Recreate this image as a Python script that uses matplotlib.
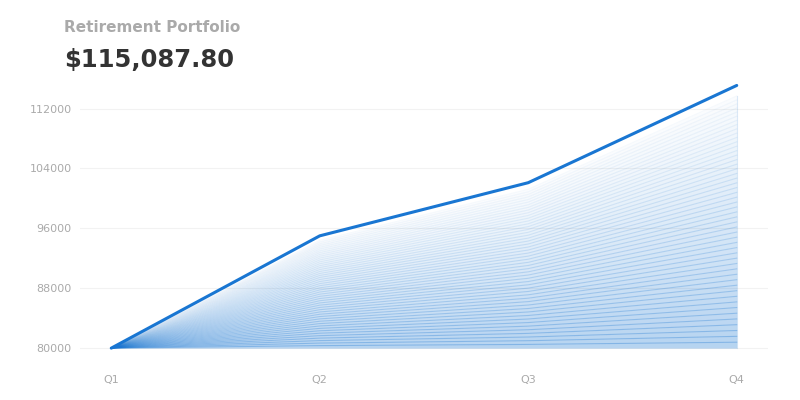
import numpy as np
import matplotlib.pyplot as plt

quarters = ["Q1", "Q2", "Q3", "Q4"]
values = [80000, 95000, 102100, 115087.80]
yticks = [80000, 88000, 96000, 104000, 112000]

line_color = "#1976d2"
base = 80000

fig = plt.figure(figsize=(8, 4), dpi=100)
ax = fig.add_axes([0.1, 0.11, 0.86, 0.70])

x = np.arange(len(quarters))
y = np.array(values)

# gradient fill: thin bands between scaled copies of the line,
# fading from the baseline upwards (a bit wider spacing near the bottom)
t = np.linspace(0.0, 1.0, 52)
levels = 0.96 * (1.2 * t - 0.2 * t ** 2)
for k0, k1 in zip(levels[:-1], levels[1:]):
    lo = base + k0 * (y - base)
    hi = base + k1 * (y - base)
    fade = 1.0 - k1 / levels[-1]
    ax.fill_between(x, lo, hi, color=line_color, alpha=0.30 * fade + 0.02,
                    linewidth=0)
    ax.plot(x, hi, color=line_color, alpha=0.30 * fade + 0.04, linewidth=0.8)

ax.plot([x[-1], x[-1]], [base, base + levels[-1] * (y[-1] - base)],
        color=line_color, alpha=0.15, linewidth=0.8)
ax.plot(x, y, color=line_color, linewidth=2.2, solid_capstyle="round")

ax.set_xlim(-0.15, 3.15)
ax.set_ylim(78950, 116350)
ax.set_xticks(x)
ax.set_xticklabels(quarters)
ax.set_yticks(yticks)
ax.tick_params(length=0, colors="#aaaaaa", labelsize=8)
ax.tick_params(axis="x", pad=14)
ax.tick_params(axis="y", pad=6)
ax.grid(axis="y", color="#f2f2f2", linewidth=0.8)
ax.set_axisbelow(True)
for s in ax.spines.values():
    s.set_visible(False)

fig.text(0.08, 0.93, "Retirement Portfolio", color="#aaaaaa", fontsize=11,
         fontweight="bold", va="center")
fig.text(0.08, 0.85, "$115,087.80", color="#333333", fontsize=17.5,
         fontweight="bold", va="center")

fig.savefig("out.png", dpi=100, facecolor="white")
